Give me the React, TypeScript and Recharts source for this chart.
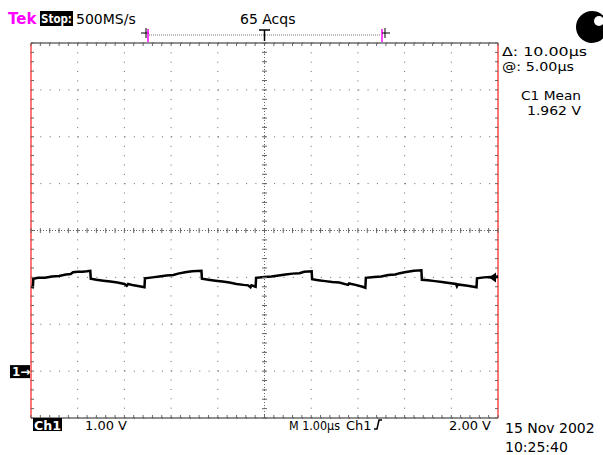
import {
  ComposedChart,
  Line,
  Scatter,
  XAxis,
  YAxis,
  CartesianGrid,
  ReferenceLine,
  ReferenceDot,
} from 'recharts';

// Ch1 trace: time in µs, level in V (1 V/div, ground at 0)
const timeUs = [
  0.0, 0.04, 0.05, 0.15, 0.3, 0.45, 0.6, 0.75, 0.85, 0.9, 1.0, 1.1, 1.2, 1.27,
  1.28, 1.4, 1.55, 1.7, 1.85, 2.0, 2.05, 2.08, 2.2, 2.32, 2.43,
  2.44, 2.6, 2.75, 2.9, 3.05, 3.15, 3.3, 3.45, 3.65,
  3.66, 3.8, 3.95, 4.1, 4.25, 4.4, 4.55, 4.65, 4.7, 4.72, 4.81,
  4.82, 5.0, 5.15, 5.3, 5.45, 5.6, 5.75, 5.85, 6.01,
  6.02, 6.15, 6.3, 6.45, 6.6, 6.79, 6.81, 6.95, 7.1, 7.16,
  7.17, 7.35, 7.5, 7.65, 7.8, 7.9, 8.0, 8.2, 8.36,
  8.37, 8.5, 8.65, 8.8, 8.95, 9.1, 9.12, 9.14, 9.35, 9.54,
  9.55, 9.7, 9.85, 10.0,
];
const ch1Volts = [
  1.8, 1.79, 1.97, 1.99, 1.99, 2.02, 2.03, 2.06, 2.07, 2.11, 2.12, 2.12, 2.13, 2.14,
  1.97, 1.95, 1.93, 1.91, 1.89, 1.86, 1.82, 1.86, 1.83, 1.81, 1.79,
  1.98, 2.0, 2.02, 2.04, 2.05, 2.08, 2.11, 2.13, 2.14,
  1.97, 1.95, 1.93, 1.91, 1.89, 1.86, 1.84, 1.83, 1.79, 1.83, 1.8,
  1.99, 2.01, 2.02, 2.04, 2.06, 2.08, 2.09, 2.12, 2.13,
  1.96, 1.94, 1.92, 1.9, 1.89, 1.84, 1.87, 1.84, 1.8, 1.78,
  1.99, 2.01, 2.02, 2.05, 2.06, 2.09, 2.11, 2.14, 2.15,
  1.95, 1.94, 1.92, 1.9, 1.88, 1.86, 1.81, 1.85, 1.82, 1.79,
  1.98, 2.0, 2.01, 2.02,
];

// graticule: 10 x 8 divisions, 5 minor steps each
const divT = [0, 1, 2, 3, 4, 5, 6, 7, 8, 9, 10];
const divV = [-1, 0, 1, 2, 3, 4, 5, 6, 7];
const minorT = Array.from({ length: 51 }, (_, i) => +(i * 0.2).toFixed(1));
const minorV = Array.from({ length: 41 }, (_, i) => +(-1 + i * 0.2).toFixed(1));
const tMin = 0;
const tMax = 10;
const vMin = -1;
const vMax = 7;
const centerT = 5;
const centerV = 3;
const triggerLevel = 2.0;
const groundLevel = 0;

const trace = timeUs.map((t, i) => ({ t, v: ch1Volts[i] }));
const hCrossTicks = minorT.map((t) => ({ t, v: centerV }));
const vCrossTicks = minorV.map((v) => ({ t: centerT, v }));
const topTicks = minorT.map((t) => ({ t, v: vMax }));
const bottomTicks = minorT.map((t) => ({ t, v: vMin }));
const leftTicks = minorV.map((v) => ({ t: tMin, v }));
const rightTicks = minorV.map((v) => ({ t: tMax, v }));

const FONT = '"DejaVu Sans", Verdana, sans-serif';
const RED = '#ff4a4a';
const GRID = '#666';

const VTick = (p: any) => (
  <line x1={p.cx} x2={p.cx} y1={p.cy - 2.5} y2={p.cy + 2.5} stroke={GRID} />
);
const HTick = (p: any) => (
  <line x1={p.cx - 2.5} x2={p.cx + 2.5} y1={p.cy} y2={p.cy} stroke={GRID} />
);
const DownTick = (p: any) => (
  <line x1={p.cx} x2={p.cx} y1={p.cy} y2={p.cy + 3} stroke={GRID} />
);
const UpTick = (p: any) => (
  <line x1={p.cx} x2={p.cx} y1={p.cy - 3} y2={p.cy} stroke={GRID} />
);
const RightTick = (p: any) => (
  <line x1={p.cx} x2={p.cx + 3} y1={p.cy} y2={p.cy} stroke={GRID} />
);
const LeftTick = (p: any) => (
  <line x1={p.cx - 3} x2={p.cx} y1={p.cy} y2={p.cy} stroke={GRID} />
);

const GroundMark = (p: any) => (
  <g>
    <rect x={p.cx - 21} y={p.cy - 6} width={20} height={13} fill="#000" />
    <text x={p.cx - 19} y={p.cy + 5} fill="#fff" fontSize={12} fontWeight="bold" fontFamily={FONT}>
      1→
    </text>
  </g>
);

const TrigMark = (p: any) => (
  <g>
    <line x1={p.cx - 10} x2={p.cx} y1={p.cy} y2={p.cy} stroke="#000" strokeWidth={2} />
    <polygon points={`${p.cx - 9},${p.cy} ${p.cx - 2},${p.cy - 5} ${p.cx - 2},${p.cy + 5}`} fill="#000" />
  </g>
);

const ticks = (data: any[], shape: any, key: string) => (
  <Scatter
    key={key}
    xAxisId="div"
    yAxisId="div"
    data={data}
    dataKey="v"
    shape={shape}
    isAnimationActive={false}
  />
);

export default function App() {
  return (
    <div
      style={{
        position: 'absolute',
        left: 0,
        top: 0,
        width: 603,
        height: 455,
        background: '#fff',
        fontFamily: FONT,
      }}
    >
      <ComposedChart
        width={603}
        height={455}
        margin={{ top: 43, right: 105, bottom: 37, left: 31 }}
      >
        <XAxis xAxisId="div" dataKey="t" type="number" domain={[tMin, tMax]} ticks={divT} hide />
        <YAxis yAxisId="div" dataKey="v" type="number" domain={[vMin, vMax]} ticks={divV} hide />
        <CartesianGrid
          xAxisId="div"
          yAxisId="div"
          stroke={GRID}
          strokeDasharray="1 8.35"
        />
        <ReferenceLine xAxisId="div" yAxisId="div" y={centerV} stroke={GRID} strokeDasharray="1 2" />
        <ReferenceLine xAxisId="div" yAxisId="div" x={centerT} stroke={GRID} strokeDasharray="1 2" />
        {ticks(hCrossTicks, VTick, 'hc')}
        {ticks(vCrossTicks, HTick, 'vc')}
        {ticks(topTicks, DownTick, 'tt')}
        {ticks(bottomTicks, UpTick, 'bt')}
        {ticks(leftTicks, RightTick, 'lt')}
        {ticks(rightTicks, LeftTick, 'rt')}
        <ReferenceLine xAxisId="div" yAxisId="div" y={vMax} stroke="#222" />
        <ReferenceLine xAxisId="div" yAxisId="div" y={vMin} stroke="#222" />
        <ReferenceLine xAxisId="div" yAxisId="div" x={tMin} stroke={RED} strokeWidth={1.5} />
        <ReferenceLine xAxisId="div" yAxisId="div" x={tMax} stroke={RED} strokeWidth={1.5} />
        <Line
          xAxisId="div"
          yAxisId="div"
          data={trace}
          dataKey="v"
          type="linear"
          stroke="#000"
          strokeWidth={2.5}
          dot={false}
          isAnimationActive={false}
        />
        <ReferenceDot
          xAxisId="div"
          yAxisId="div"
          x={tMin}
          y={groundLevel}
          ifOverflow="visible"
          shape={GroundMark}
        />
        <ReferenceDot
          xAxisId="div"
          yAxisId="div"
          x={tMax}
          y={triggerLevel}
          ifOverflow="visible"
          shape={TrigMark}
        />
      </ComposedChart>

      <svg
        width={603}
        height={455}
        style={{ position: 'absolute', left: 0, top: 0, pointerEvents: 'none' }}
        fontFamily={FONT}
        fontSize={14}
      >
        {/* header */}
        <text x={8} y={24} fill="#ff00ff" fontWeight="bold" fontSize={15}>Tek</text>
        <rect x={40} y={11} width={33} height={15} fill="#000" />
        <text x={41} y={23} fill="#fff" fontWeight="bold" fontSize={12} textLength={31} lengthAdjust="spacingAndGlyphs">Stop:</text>
        <text x={76} y={24} fontSize={14}>500MS/s</text>
        <text x={240} y={24} fontSize={14}>65 Acqs</text>

        {/* record position bar */}
        <line x1={149} x2={381} y1={35} y2={35} stroke="#777" strokeDasharray="1 1" />
        <line x1={141} x2={149} y1={33} y2={33} stroke="#000" />
        <line x1={146} x2={146} y1={28} y2={38} stroke="#000" />
        <line x1={148} x2={148} y1={29} y2={42} stroke="#ff00ff" strokeWidth={1.5} />
        <line x1={382} x2={382} y1={29} y2={42} stroke="#ff00ff" strokeWidth={1.5} />
        <line x1={382} x2={390} y1={33} y2={33} stroke="#000" />
        <line x1={385} x2={385} y1={28} y2={38} stroke="#000" />
        <line x1={259} x2={270} y1={30} y2={30} stroke="#000" strokeWidth={1.5} />
        <line x1={264.5} x2={264.5} y1={30} y2={41} stroke="#000" strokeWidth={1.5} />

        {/* power indicator */}
        <circle cx={592} cy={27} r={16} fill="#000" />
        <circle cx={599} cy={21} r={5} fill="#fff" />

        {/* right readouts */}
        <text x={502} y={56} fontSize={13} textLength={85} lengthAdjust="spacingAndGlyphs">Δ: 10.00µs</text>
        <text x={502} y={71} fontSize={13} textLength={72} lengthAdjust="spacingAndGlyphs">@: 5.00µs</text>
        <text x={521} y={100} fontSize={13} textLength={60} lengthAdjust="spacingAndGlyphs">C1 Mean</text>
        <text x={527} y={115} fontSize={13} textLength={54} lengthAdjust="spacingAndGlyphs">1.962 V</text>

        {/* bottom readouts */}
        <rect x={33} y={418} width={29} height={13} fill="#000" />
        <text x={34} y={430} fill="#fff" fontWeight="bold" fontSize={12} textLength={27} lengthAdjust="spacingAndGlyphs">Ch1</text>
        <text x={85} y={430} fontSize={13}>1.00 V</text>
        <text x={289} y={430} fontSize={13} textLength={51} lengthAdjust="spacingAndGlyphs">M 1.00µs</text>
        <text x={346} y={430} fontSize={13}>Ch1</text>
        <path d="M 374 429 L 377 429 L 379 420 L 382 420" stroke="#000" fill="none" strokeWidth={1.5} />
        <text x={449} y={430} fontSize={13}>2.00 V</text>
        <text x={505} y={433}>15 Nov 2002</text>
        <text x={505} y={452}>10:25:40</text>
      </svg>
    </div>
  );
}
